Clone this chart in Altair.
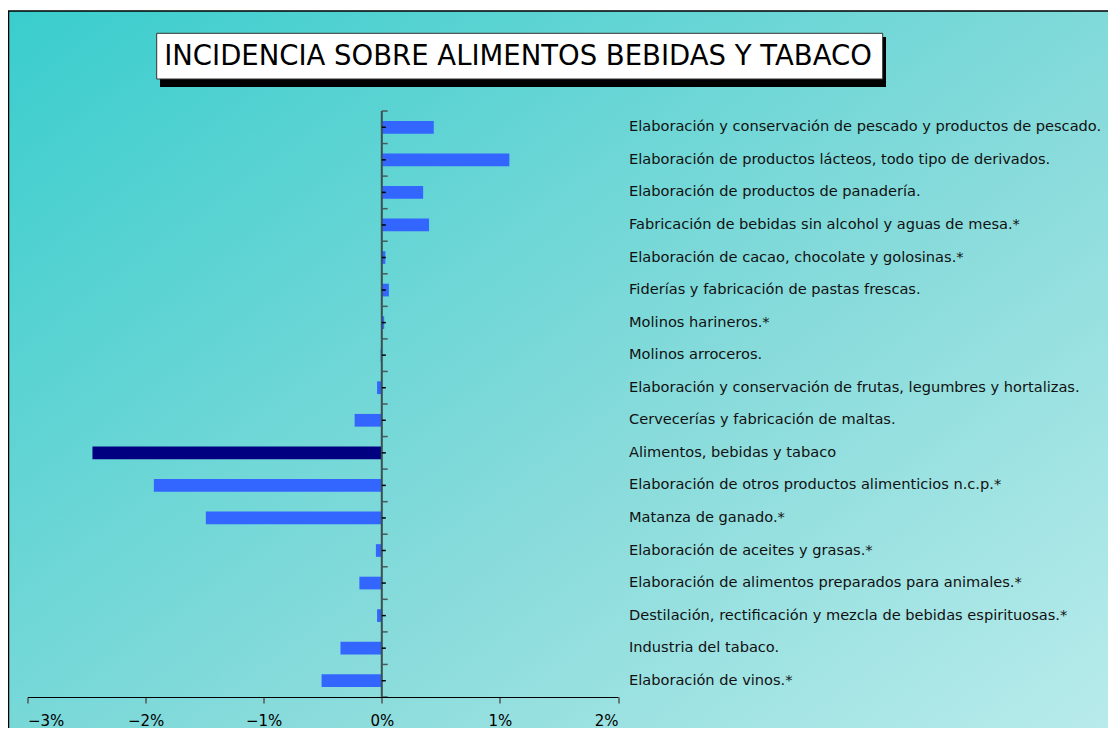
import altair as alt
import pandas as pd

categories = [
    "Elaboración y conservación de pescado y productos de pescado.",
    "Elaboración de productos lácteos, todo tipo de derivados.",
    "Elaboración de productos de panadería.",
    "Fabricación de bebidas sin alcohol y aguas de mesa.*",
    "Elaboración de cacao, chocolate y golosinas.*",
    "Fiderías y fabricación de pastas frescas.",
    "Molinos harineros.*",
    "Molinos arroceros.",
    "Elaboración y conservación de frutas, legumbres y hortalizas.",
    "Cervecerías y fabricación de maltas.",
    "Alimentos, bebidas y tabaco",
    "Elaboración de otros productos alimenticios n.c.p.*",
    "Matanza de ganado.*",
    "Elaboración de aceites y grasas.*",
    "Elaboración de alimentos preparados para animales.*",
    "Destilación, rectificación y mezcla de bebidas espirituosas.*",
    "Industria del tabaco.",
    "Elaboración de vinos.*",
]
values = [0.44, 1.08, 0.35, 0.40, 0.03, 0.06, 0.02, -0.01, -0.04, -0.23,
          -2.45, -1.93, -1.49, -0.05, -0.19, -0.04, -0.35, -0.51]
is_total = [c == "Alimentos, bebidas y tabaco" for c in categories]
x_ticks = [-3, -2, -1, 0, 1, 2]
title_text = "INCIDENCIA SOBRE ALIMENTOS BEBIDAS Y TABACO"

n = len(categories)
df = pd.DataFrame({
    "cat": categories,
    "val": values,
    "pos": list(range(n)),
    "total": ["total" if t else "sub" for t in is_total],
})
df["y0"] = df["pos"] - 0.195
df["y1"] = df["pos"] + 0.195
df["zero"] = 0.0
df["tick_end"] = 0.034
df["label_x"] = 2.0

bounds = pd.DataFrame({"b": [i - 0.5 for i in range(n + 1)]})
bounds["zero"] = 0.0
bounds["tick_end"] = 0.05

axis_line = pd.DataFrame({"zero": [0.0], "top": [-0.5], "bottom": [n - 0.5]})
one = pd.DataFrame({"a": [0]})

W, H = 590.5, 586
xscale = alt.Scale(domain=[-3, 2], nice=False, zero=False)
yscale = alt.Scale(domain=[-0.5, n - 0.5], reverse=True, nice=False, zero=False)

grad = alt.LinearGradient(
    gradient="linear",
    stops=[
        alt.GradientStop(color="#3acdcd", offset=0),
        alt.GradientStop(color="#88dbdb", offset=0.5),
        alt.GradientStop(color="#cdf2f2", offset=1),
    ],
    x1=0, y1=0, x2=1, y2=1,
)

bg = alt.Chart(one).mark_rect(color=grad, stroke="black", strokeWidth=1.5).encode(
    x=alt.value(-19), x2=alt.value(1200), y=alt.value(-100), y2=alt.value(800)
)

shadow = alt.Chart(one).mark_rect(color="black").encode(
    x=alt.value(132.5), x2=alt.value(858.5), y=alt.value(-74), y2=alt.value(-24)
)
box = alt.Chart(one).mark_rect(color="white", stroke="#333333", strokeWidth=1).encode(
    x=alt.value(129.2), x2=alt.value(855.2), y=alt.value(-77.7), y2=alt.value(-32)
)
title = alt.Chart(one).mark_text(
    text=title_text, font="DejaVu Sans", fontSize=27.5, color="black",
    align="center", baseline="middle"
).encode(x=alt.value(490.5), y=alt.value(-54))

bars = alt.Chart(df).mark_rect().encode(
    x=alt.X("val:Q", scale=xscale,
            axis=alt.Axis(values=x_ticks, title=None, grid=False, domainColor="black",
                          domainWidth=1, tickColor="#555555", tickSize=6, tickWidth=1.5,
                          labelFontSize=15, labelFont="DejaVu Sans", labelColor="black",
                          labelPadding=10, zindex=2,
                          labelExpr="(datum.value < 0 ? '\u2212' : '') + abs(datum.value) + '%'")),
    x2="zero:Q",
    y=alt.Y("y0:Q", scale=yscale, axis=None),
    y2="y1:Q",
    color=alt.Color("total:N", scale=alt.Scale(domain=["sub", "total"], range=["#3366ff", "#000080"]), legend=None),
)

zero_line = alt.Chart(axis_line).mark_rule(color="#3d4f4f", strokeWidth=2).encode(
    x=alt.X("zero:Q", scale=xscale), y=alt.Y("top:Q", scale=yscale, axis=None), y2="bottom:Q"
)

bound_ticks = alt.Chart(bounds).mark_rule(color="#4a5a5a", strokeWidth=1.5).encode(
    x=alt.X("zero:Q", scale=xscale), x2="tick_end:Q", y=alt.Y("b:Q", scale=yscale, axis=None)
)
center_ticks = alt.Chart(df).mark_rule(color="black", strokeWidth=1.5).encode(
    x=alt.X("zero:Q", scale=xscale), x2="tick_end:Q", y=alt.Y("pos:Q", scale=yscale, axis=None)
)

labels = alt.Chart(df).mark_text(
    align="left", baseline="middle", dx=11, font="DejaVu Sans", fontSize=14.6, color="#111111"
).encode(
    x=alt.X("label_x:Q", scale=xscale), y=alt.Y("pos:Q", scale=yscale, axis=None), text="cat:N"
)

chart = alt.layer(bg, shadow, box, title, bars, zero_line, bound_ticks, center_ticks, labels).properties(
    width=W, height=H,
    autosize=alt.AutoSizeParams(type="none"),
    padding={"left": 19.5, "top": 103, "right": 490, "bottom": 31},
).configure_view(stroke=None)

chart.save("out.html", embed_options={"renderer": "svg", "actions": False})
